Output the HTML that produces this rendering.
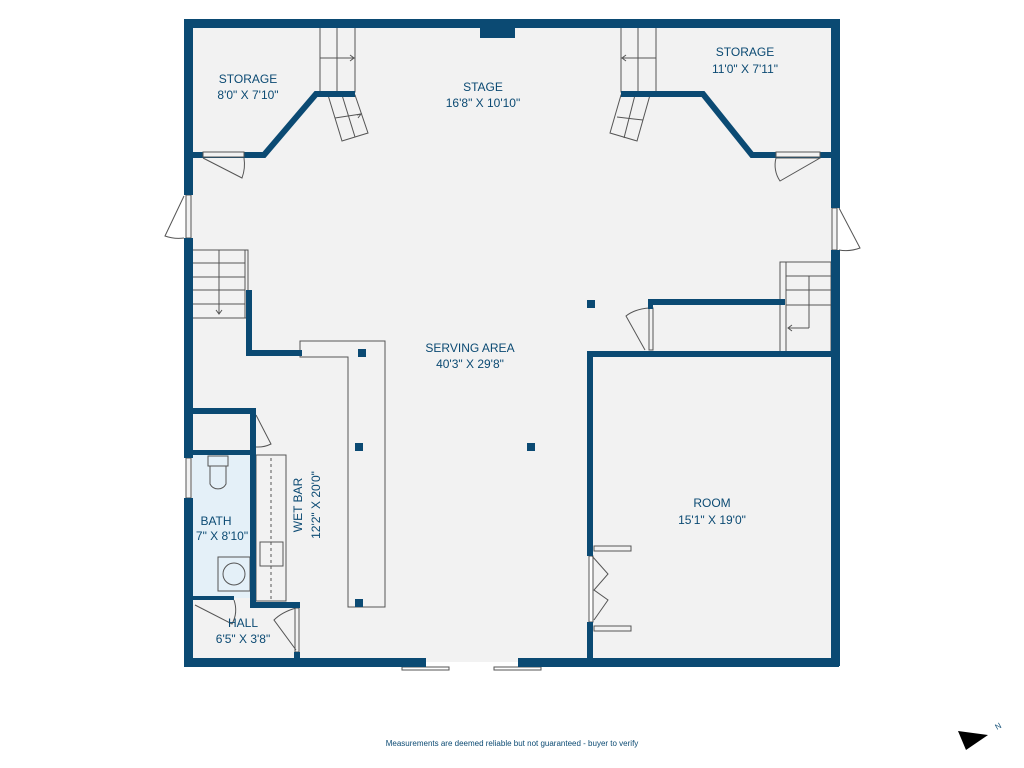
<!DOCTYPE html>
<html><head><style>
html,body{margin:0;padding:0;background:#fff;width:1024px;height:768px;overflow:hidden}
text{font-family:"Liberation Sans",sans-serif;fill:#0b4a73}
</style></head><body>
<svg width="1024" height="768" viewBox="0 0 1024 768" xmlns="http://www.w3.org/2000/svg">
<rect x="188" y="23" width="647" height="639" fill="#f2f2f2"/>
<rect x="192" y="455" width="60" height="143" fill="#e4f0f8"/>
<g stroke="#555" stroke-width="1" fill="none">
<rect x="320" y="27" width="35" height="65"/><line x1="337" y1="27" x2="337" y2="92"/><line x1="320" y1="58" x2="355" y2="58"/>
<path d="M337,58 L354,58 M350,55 L354,58 L350,61"/>
<polygon points="328,95 355,95 368,133 342,141"/><line x1="335" y1="118" x2="361" y2="114"/><line x1="342" y1="95" x2="355" y2="137"/>
<path d="M357,115 L361,114 L358,118"/>
<rect x="621" y="27" width="35" height="65"/><line x1="638" y1="27" x2="638" y2="92"/><line x1="621" y1="58" x2="656" y2="58"/>
<path d="M638,58 L622,58 M626,55 L622,58 L626,61"/>
<polygon points="650,95 621,95 610,133 637,141"/><line x1="617" y1="117" x2="643" y2="120"/><line x1="635" y1="95" x2="624" y2="138"/>
<rect x="192" y="250" width="56" height="68"/><line x1="192" y1="263" x2="245" y2="263"/><line x1="192" y1="277" x2="245" y2="277"/><line x1="192" y1="290" x2="245" y2="290"/><line x1="192" y1="304" x2="245" y2="304"/><line x1="219" y1="250" x2="219" y2="314"/><line x1="245" y1="250" x2="245" y2="318"/>
<path d="M216,310 L219,314 L222,310"/>
<rect x="780" y="262" width="51" height="90"/><line x1="786" y1="262" x2="786" y2="352"/><line x1="786" y1="276" x2="831" y2="276"/><line x1="786" y1="290" x2="831" y2="290"/><line x1="786" y1="305" x2="831" y2="305"/><line x1="809" y1="276" x2="809" y2="328"/><line x1="788" y1="328" x2="809" y2="328"/>
<path d="M792,325 L788,328 L792,331"/>
<polygon points="300,341 385,341 385,607 348,607 348,357 300,357"/>
<rect x="256" y="455" width="30" height="146"/><line x1="271" y1="458" x2="271" y2="600" stroke-dasharray="3,3"/><rect x="260" y="542" width="23" height="24"/>
<rect x="208" y="456" width="20" height="10"/><path d="M210,466 v18 a9,9 0 0 0 16,0 v-18"/>
<rect x="218" y="557" width="32" height="34"/><circle cx="234" cy="574" r="11"/>
<path d="M203,158 L242,178 A40,40 0 0 0 244,158"/>
<path d="M776,158 L820,158 L780,181 A28,28 0 0 1 776,158"/>
<path d="M184,196 L165,236 A40,40 0 0 0 184,238"/>
<path d="M839,208 L860,248 A40,40 0 0 1 839,250"/>
<rect x="649" y="308" width="4" height="42" fill="#f2f2f2"/>
<path d="M649,308 Q635,309 626,316 L645,350"/>
<rect x="251" y="415" width="4" height="33" fill="#f2f2f2"/>
<path d="M256,415 L271,444 A30,30 0 0 1 256,447"/>
<path d="M195,605 L232,624 A30,30 0 0 0 234,600"/>
<rect x="295" y="608" width="4" height="44" fill="#f2f2f2"/>
<path d="M296,608 Q282,612 274,620 L296,650"/>
<rect x="589" y="556" width="4" height="66" fill="#fff"/>
<path d="M592,556 L608,574 L594,590 L608,600 L594,620"/>
<rect x="594" y="546" width="37" height="5"/><rect x="594" y="626" width="37" height="5"/>
<rect x="186" y="195" width="5" height="43" fill="#f2f2f2"/><rect x="832" y="208" width="5" height="42" fill="#f2f2f2"/>
<rect x="186" y="458" width="5" height="40" fill="#f2f2f2"/>
<rect x="211" y="659" width="40" height="5" fill="#f2f2f2"/>
<rect x="402" y="667" width="47" height="3"/><rect x="494" y="667" width="47" height="3"/>
</g>
<g fill="#0b4a73">
<rect x="184" y="19" width="655" height="9"/>
<rect x="184" y="19" width="9" height="176"/><rect x="184" y="238" width="9" height="220"/><rect x="184" y="498" width="9" height="168"/>
<rect x="831" y="19" width="9" height="189"/><rect x="831" y="250" width="9" height="416"/>
<rect x="184" y="658" width="242" height="9"/><rect x="518" y="658" width="321" height="9"/>
<rect x="480" y="27" width="35" height="11"/>
<rect x="358" y="349" width="8" height="8"/><rect x="355" y="443" width="8" height="8"/><rect x="355" y="599" width="8" height="8"/><rect x="527" y="443" width="8" height="8"/><rect x="587" y="300" width="8" height="8"/>
<rect x="246" y="290" width="6" height="66"/><rect x="246" y="350" width="56" height="6"/>
<rect x="648" y="299" width="137" height="6"/><rect x="648" y="299" width="5" height="10"/>
<rect x="587" y="351" width="252" height="6"/><rect x="587" y="351" width="6" height="205"/><rect x="587" y="622" width="6" height="44"/>
<rect x="192" y="408" width="64" height="6"/><rect x="250" y="408" width="6" height="200"/><rect x="192" y="450" width="60" height="5"/>
<rect x="250" y="602" width="50" height="6"/><rect x="294" y="602" width="6" height="6"/><rect x="294" y="652" width="6" height="10"/>
<rect x="192" y="596" width="42" height="4"/>
</g>
<g fill="none" stroke="#0b4a73" stroke-width="6">
<polyline points="192,155 264,155 316,94 355,94"/>
<polyline points="621,94 703,94 752,155 831,155"/>
</g>
<rect x="203" y="152" width="41" height="5" fill="#f2f2f2" stroke="#555" stroke-width="1"/>
<rect x="776" y="152" width="44" height="5" fill="#f2f2f2" stroke="#555" stroke-width="1"/>
<g font-size="12" text-anchor="middle">
<text x="248" y="83">STORAGE</text><text x="248" y="99">8'0" X 7'10"</text>
<text x="483" y="91">STAGE</text><text x="483" y="107">16'8" X 10'10"</text>
<text x="745" y="56">STORAGE</text><text x="745" y="73">11'0" X 7'11"</text>
<text x="470" y="352">SERVING AREA</text><text x="470" y="368">40'3" X 29'8"</text>
<text x="712" y="507">ROOM</text><text x="712" y="524">15'1" X 19'0"</text>
<text x="216" y="525">BATH</text><text x="222" y="540">7" X 8'10"</text>
<text x="243" y="627">HALL</text><text x="243" y="643">6'5" X 3'8"</text>
<text transform="translate(302,505) rotate(-90)">WET BAR</text>
<text transform="translate(320,505) rotate(-90)">12'2" X 20'0"</text>
</g>
<text x="512" y="746" font-size="8" text-anchor="middle">Measurements are deemed reliable but not guaranteed - buyer to verify</text>
<polygon points="958,731 988,735 966,750" fill="#000"/>
<text x="997" y="730" font-size="8" fill="#000" transform="rotate(-30 997 730)">N</text>
</svg>
</body></html>
